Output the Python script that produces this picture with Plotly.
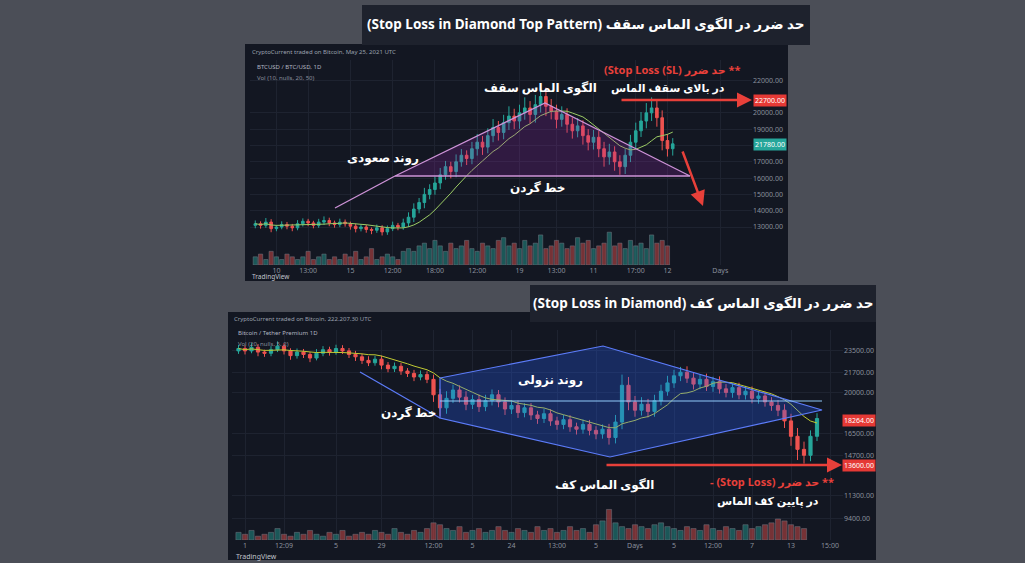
import plotly.graph_objects as go
import pandas as pd

W, H = 1025, 563
def px(x): return x / W
def py(y): return 1 - y / H

# ---------- top chart data (Diamond Top) ----------
top_close = [13200,13100,13300,12900,13000,13150,13050,12950,13200,13350,13250,13100,13300,13400,13250,13150,13300,13200,13050,12900,13000,12850,12800,12950,12700,12900,13100,13000,13250,
             13600,14100,14500,15000,15300,15700,
             16200,16700,16400,17000,17400,17200,17800,
             18200,17900,18600,19100,18800,19400,19800,19500,
             20000,20300,19900,20500,21000,20400,
             20100,19600,19900,19300,18900,19200,18600,18200,18500,17800,17300,17600,17000,
             16700,17400,18200,18900,19500,20000,
             20300,19700,18300,17800,18100]
top_wick_up = [200,150,250,180,120,200,160,140,220,180,150,130,200,250,170,140,210,160,130,150,180,140,120,200,160,190,230,150,260,
               300,350,280,400,320,380,420,350,300,450,380,300,420,500,380,450,520,400,480,600,450,500,650,420,600,700,550,
               450,400,500,380,420,480,350,400,450,380,420,500,350,400,380,450,500,550,600,650,500,450,400,350]
top_wick_dn = [180,200,150,220,160,140,190,210,150,170,200,180,150,170,200,190,160,180,210,230,170,200,240,160,220,180,150,200,170,
               250,300,260,350,300,320,380,300,420,350,300,400,350,420,480,380,400,500,420,450,500,480,420,550,500,480,600,
               500,550,450,520,480,400,550,500,450,520,600,480,550,500,450,420,400,380,450,500,550,600,480,420]
top_vol = [3,4,2,5,3,2,4,3,2,3,5,2,3,4,2,3,2,4,3,5,2,3,6,2,3,4,3,2,5,
           6,5,7,8,6,9,7,5,8,6,7,9,6,5,8,7,6,9,10,7,8,6,9,7,8,11,
           6,7,9,8,6,7,10,8,9,6,7,8,12,7,8,6,9,7,8,6,11,8,9,7]

top_xticks = [4, 10, 18, 26, 34, 42, 50, 57, 64, 72, 78, 88]
top_xtext = ["10", "13:00", "15", "12:00", "18:00", "12:00", "19", "13:00", "11", "17:00", "12", "Days"]
top_yticks = [13000, 14000, 15000, 16000, 17000, 18000, 19000, 20000, 22000]
top_ytext = ["13000.00", "14000.00", "15000.00", "16000.00", "17000.00", "18000.00", "19000.00", "20000.00", "22000.00"]

# ---------- bottom chart data (Diamond Bottom) ----------
bot_close = [23700,23500,23800,23400,23300,23600,23900,23500,23100,23400,23200,22900,23300,23600,23400,23700,23500,23200,
             23000,22700,22500,22800,22300,22000,22200,21800,21600,21300,21500,21100,
             19800,18700,
             19500,20200,19600,19000,19400,18800,19300,19800,19200,18600,18900,18300,18700,18100,17800,18200,17600,17300,17700,17100,16900,17300,16800,16500,16900,16200,
             17500,20600,19200,18500,19000,18400,
             19300,20100,20800,21400,21700,
             21200,20700,21100,20500,20900,20300,20000,20400,19800,20100,19500,19700,19200,18900,
             18500,17600,16300,15200,14700,16300,17800]
bot_wick_up = [300,250,350,280,200,300,400,250,220,300,260,200,350,300,250,320,280,240,
               300,250,350,280,300,260,320,280,250,300,350,280,400,500,
               600,450,400,500,380,420,500,450,400,380,450,420,380,400,350,420,380,350,400,380,350,420,380,350,400,450,
               600,900,700,500,600,450,500,550,600,500,450,
               500,450,400,480,420,450,400,380,420,450,400,380,350,400,450,500,600,700,650,500,450]
bot_wick_dn = [250,300,200,350,300,250,200,300,350,250,300,350,200,250,300,220,260,300,
               350,300,280,250,350,300,280,320,300,350,280,320,600,700,
               500,400,450,500,400,450,380,400,450,500,420,450,400,420,450,380,420,450,400,420,450,380,420,450,400,600,
               500,600,700,550,450,500,450,400,380,420,450,
               400,450,420,380,450,400,420,450,380,400,420,450,400,450,500,600,800,900,700,500,400]
bot_vol = [4,3,5,2,3,4,6,3,2,4,3,5,3,2,4,3,5,2,
           3,4,3,5,4,3,6,4,3,5,4,6,9,8,
           6,5,7,4,5,6,4,5,7,5,4,6,5,4,7,5,6,4,5,7,5,6,4,8,
           10,16,9,7,6,8,7,6,8,9,7,
           6,5,7,6,5,8,6,5,7,6,5,8,6,7,8,9,11,10,8,7,6]

bot_xticks = [1, 7, 15, 22, 30, 36, 42, 49, 55, 61, 67, 73, 79, 85, 91]
bot_xtext = ["1", "12:09", "5", "29", "12:00", "5", "24", "13:00", "5", "Days", "5", "12:00", "7", "13", "15:00"]
bot_yticks = [9400, 11300, 14700, 16500, 20000, 21700, 23500]
bot_ytext = ["9400.00", "11300.00", "14700.00", "16500.00", "20000.00", "21700.00", "23500.00"]

UP, DN = "#26a69a", "#ef5350"
RED = "#e8403a"

def ohlc(close, wu, wd, first_open):
    opens = [first_open] + close[:-1]
    highs = [max(o, c) + u for o, c, u in zip(opens, close, wu)]
    lows = [min(o, c) - d for o, c, d in zip(opens, close, wd)]
    return opens, highs, lows

fig = go.Figure()

to, th, tl = ohlc(top_close, top_wick_up, top_wick_dn, 13100)
tx = list(range(len(top_close)))
fig.add_trace(go.Bar(x=tx, y=top_vol, xaxis="x", yaxis="y2",
                     marker_color=[UP if c >= o else DN for o, c in zip(to, top_close)],
                     opacity=0.45, showlegend=False))
fig.add_trace(go.Candlestick(x=tx, open=to, high=th, low=tl, close=top_close, xaxis="x", yaxis="y",
                             increasing=dict(line=dict(color=UP, width=1), fillcolor=UP),
                             decreasing=dict(line=dict(color=DN, width=1), fillcolor=DN),
                             showlegend=False))
fig.add_trace(go.Scatter(x=tx, y=pd.Series(top_close).rolling(10, min_periods=1).mean(),
                         xaxis="x", yaxis="y", mode="lines", line=dict(color="#9ccc65", width=1), showlegend=False))

bo, bh, bl = ohlc(bot_close, bot_wick_up, bot_wick_dn, 23500)
bx = list(range(len(bot_close)))
fig.add_trace(go.Bar(x=bx, y=bot_vol, xaxis="x2", yaxis="y4",
                     marker_color=[UP if c >= o else DN for o, c in zip(bo, bot_close)],
                     opacity=0.45, showlegend=False))
fig.add_trace(go.Candlestick(x=bx, open=bo, high=bh, low=bl, close=bot_close, xaxis="x2", yaxis="y3",
                             increasing=dict(line=dict(color=UP, width=1), fillcolor=UP),
                             decreasing=dict(line=dict(color=DN, width=1), fillcolor=DN),
                             showlegend=False))
fig.add_trace(go.Scatter(x=bx, y=pd.Series(bot_close).rolling(10, min_periods=1).mean(),
                         xaxis="x2", yaxis="y3", mode="lines", line=dict(color="#c0ca33", width=1), showlegend=False))

grid = "#1e2330"
tick = dict(color="#8a8f9c", size=7)
fig.update_layout(
    width=W, height=H, margin=dict(l=0, r=0, t=0, b=0),
    paper_bgcolor="#4b4e57", plot_bgcolor="rgba(0,0,0,0)",
    font=dict(family="Noto Sans, DejaVu Sans", color="white"),
    xaxis=dict(domain=[px(250), px(752)], range=[-1, 94], anchor="y", showgrid=True, gridcolor=grid,
               tickvals=top_xticks, ticktext=top_xtext, tickfont=tick, rangeslider=dict(visible=False), zeroline=False),
    yaxis=dict(domain=[py(265), py(60)], range=[10670, 23240], side="right", anchor="x", showgrid=True, gridcolor=grid,
               tickvals=top_yticks, ticktext=top_ytext, tickfont=tick, zeroline=False),
    yaxis2=dict(domain=[py(265), py(60)], range=[0, 75], overlaying="y", anchor="x", visible=False),
    xaxis2=dict(domain=[px(232), px(843)], range=[-1, 93], anchor="y3", showgrid=True, gridcolor=grid,
                tickvals=bot_xticks, ticktext=bot_xtext, tickfont=tick, rangeslider=dict(visible=False), zeroline=False),
    yaxis3=dict(domain=[py(540), py(330)], range=[7560, 25260], side="right", anchor="x2", showgrid=True, gridcolor=grid,
                tickvals=bot_yticks, ticktext=bot_ytext, tickfont=tick, zeroline=False),
    yaxis4=dict(domain=[py(540), py(330)], range=[0, 110], overlaying="y3", anchor="x2", visible=False),
)

shapes = []
def rect(x0, y0, x1, y1, color, layer="below"):
    shapes.append(dict(type="rect", xref="paper", yref="paper", x0=px(x0), x1=px(x1), y0=py(y1), y1=py(y0),
                       fillcolor=color, line=dict(width=0), layer=layer))
rect(245, 44, 788, 281, "#131722")
rect(228, 312, 876, 560, "#131722")
rect(362, 5, 810, 45, "#1e222d", "above")
rect(530, 285, 876, 322, "#1e222d", "above")

def path(pts, fill, line, w=1.2):
    d = "M " + " L ".join(f"{px(x)},{py(y)}" for x, y in pts)
    if fill:
        d += " Z"
    s = dict(type="path", xref="paper", yref="paper", path=d, line=dict(color=line, width=w), layer="above")
    if fill:
        s["fillcolor"] = fill
    shapes.append(s)
path([(395, 176), (545, 103), (690, 176)], "rgba(156,39,176,0.22)", "#ce93d8")
path([(335, 208), (395, 176)], None, "#ce93d8")
path([(395, 176), (690, 176)], None, "#ce93d8")
path([(440, 378), (603, 346), (822, 410), (610, 457), (440, 418)], "rgba(41,98,255,0.28)", "#5c7cfa")
path([(360, 372), (440, 418)], None, "#5c7cfa")
path([(440, 401), (822, 401)], None, "#90caf9")
fig.update_layout(shapes=shapes)

ann = []
def text(x, y, s, size=12, color="white", bold=True, anchor="center"):
    ann.append(dict(xref="paper", yref="paper", x=px(x), y=py(y), text=f"<b>{s}</b>" if bold else s,
                    showarrow=False, font=dict(size=size, color=color), xanchor=anchor, yanchor="middle"))
def arrow(x0, y0, x1, y1):
    ann.append(dict(xref="paper", yref="paper", axref="pixel", ayref="pixel", x=px(x1), y=py(y1),
                    ax=x0 - x1, ay=y0 - y1, showarrow=True, arrowhead=2, arrowsize=1.2, arrowwidth=2.5,
                    arrowcolor=RED, text=""))

# strings written in visual (left-to-right) order
text(586, 24, "(Stop Loss in Diamond Top Pattern) حد ضرر در الگوی الماس سقف", 13.5)
text(703, 303, "(Stop Loss in Diamond) حد ضرر در الگوی الماس کف", 13.5)
text(540, 88, "الگوی الماس سقف", 12)
text(383, 157, "روند صعودی", 12)
text(537, 187, "خط گردن", 12)
text(672, 70, "(Stop Loss (SL) حد ضرر **", 11, RED)
text(668, 87, "در بالای سقف الماس", 11)
text(550, 379, "روند نزولی", 12)
text(408, 412, "خط گردن", 12)
text(604, 484, "الگوی الماس کف", 12)
text(772, 481, "- (Stop Loss) حد ضرر **", 11, RED)
text(768, 500, "در پایین کف الماس", 11)
text(250, 52, "CryptoCurrent traded on Bitcoin, May 25, 2021 UTC", 6, "#9aa0ad", False, "left")
text(255, 67, "BTCUSD / BTC/USD, 1D", 6, "#b0b5c0", False, "left")
text(255, 78, "Vol (10, nulls, 20, 50)", 6, "#8a8f9c", False, "left")
text(232, 319, "CryptoCurrent traded on Bitcoin, 222.207.30 UTC", 6, "#9aa0ad", False, "left")
text(236, 333, "Bitcoin / Tether Premium 1D", 6, "#b0b5c0", False, "left")
text(236, 344, "Vol (20, nulls, 5, 2)", 6, "#8a8f9c", False, "left")
text(250, 277, "TradingView", 6.5, "#c0c4cc", False, "left")
text(234, 556, "TradingView", 7, "#c0c4cc", False, "left")
for (x, y, s, c) in [(770, 100, "22700.00", "#e53935"), (770, 145, "21780.00", "#26a69a"),
                     (859, 420, "18264.00", "#e53935"), (859, 465, "13600.00", "#e53935")]:
    ann.append(dict(xref="paper", yref="paper", x=px(x), y=py(y), text=s, showarrow=False, bgcolor=c,
                    font=dict(size=7, color="white"), xanchor="center", yanchor="middle"))
arrow(620, 100, 752, 100)
arrow(682, 150, 703, 206)
arrow(605, 465, 842, 465)
fig.update_layout(annotations=ann)
fig.update_xaxes(ticklen=2, selector=dict(anchor="y"))

fig.write_html("out.html", config={"displayModeBar": False},
               post_script="document.body.style.margin='0';document.body.style.background='#4b4e57';")
